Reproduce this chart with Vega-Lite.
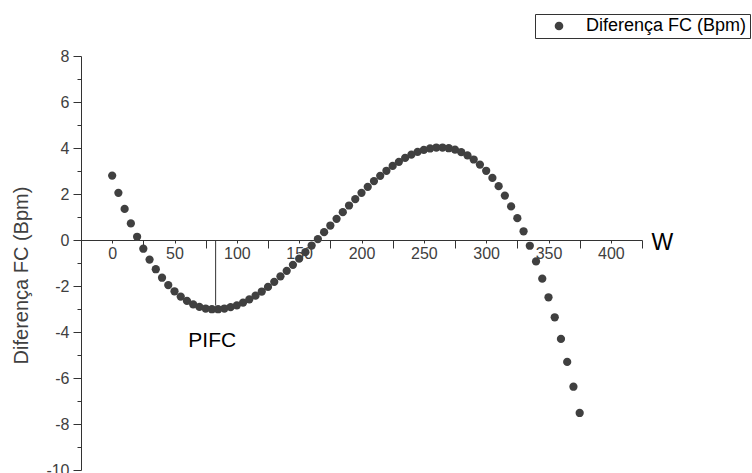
{
  "$schema": "https://vega.github.io/schema/vega-lite/v6.json",
  "width": 561,
  "height": 414,
  "autosize": {"type": "none"},
  "padding": {"left": 81, "top": 56, "right": 110, "bottom": 3},
  "background": "white",
  "config": {
    "view": {"stroke": null},
    "font": "Liberation Sans",
    "axis": {"grid": false, "domainColor": "#333333", "tickColor": "#333333", "labelColor": "#404040", "labelFont": "Liberation Sans", "titleFont": "Liberation Sans", "zindex": 0}
  },
  "layer": [
    {
      "data": {"values": [{"W": 83, "FC": 0, "FC2": -2.85}]},
      "mark": {"type": "rule", "color": "#333333", "strokeWidth": 1},
      "encoding": {
        "x": {"field": "W", "type": "quantitative", "scale": {"domain": [-25, 425], "nice": false, "zero": false},
          "axis": {"orient": "bottom", "offset": -230, "values": [0, 50, 100, 150, 200, 250, 300, 350, 400], "tickSize": 3, "labelFontSize": 16, "labelPadding": 2, "labelFlush": false, "labelOverlap": false,
            "title": "W", "titleX": 570, "titleY": 9, "titleAlign": "left", "titleBaseline": "alphabetic", "titleFontSize": 23, "titleFontWeight": "normal", "titleColor": "#000000", "titleAnchor": null}},
        "y": {"field": "FC", "type": "quantitative", "scale": {"domain": [-10, 8], "nice": false, "zero": false},
          "axis": {"orient": "left", "values": [-10, -8, -6, -4, -2, 0, 2, 4, 6, 8], "tickSize": 8, "labelFontSize": 16, "labelPadding": 4, "labelFlush": false, "labelOverlap": false,
            "labelExpr": "datum.value < 0 ? '-' + abs(datum.value) : '' + datum.value",
            "title": "Diferença FC (Bpm)", "titleX": -54, "titleY": 219, "titleAngle": 270, "titleAlign": "center", "titleBaseline": "alphabetic", "titleFontSize": 20, "titleFontWeight": "normal", "titleColor": "#404040"}},
        "y2": {"field": "FC2"}
      }
    },
    {
      "data": {"values": [{"W": 80.3, "FC": -4.66, "label": "PIFC"}]},
      "mark": {"type": "text", "font": "Liberation Sans", "fontSize": 21, "color": "#000000", "align": "center", "baseline": "alphabetic"},
      "encoding": {
        "x": {"field": "W", "type": "quantitative", "axis": null},
        "y": {"field": "FC", "type": "quantitative", "axis": null},
        "text": {"field": "label"}
      }
    },
    {
      "data": {"values": [
        {"W": 0, "FC": 2.80}, {"W": 5, "FC": 2.05}, {"W": 10, "FC": 1.35}, {"W": 15, "FC": 0.72}, {"W": 20, "FC": 0.14},
        {"W": 25, "FC": -0.38}, {"W": 30, "FC": -0.85}, {"W": 35, "FC": -1.27}, {"W": 40, "FC": -1.64}, {"W": 45, "FC": -1.96},
        {"W": 50, "FC": -2.23}, {"W": 55, "FC": -2.46}, {"W": 60, "FC": -2.65}, {"W": 65, "FC": -2.80}, {"W": 70, "FC": -2.91},
        {"W": 75, "FC": -2.98}, {"W": 80, "FC": -3.01}, {"W": 85, "FC": -3.01}, {"W": 90, "FC": -2.98}, {"W": 95, "FC": -2.92},
        {"W": 100, "FC": -2.84}, {"W": 105, "FC": -2.72}, {"W": 110, "FC": -2.58}, {"W": 115, "FC": -2.42}, {"W": 120, "FC": -2.24},
        {"W": 125, "FC": -2.04}, {"W": 130, "FC": -1.82}, {"W": 135, "FC": -1.58}, {"W": 140, "FC": -1.34}, {"W": 145, "FC": -1.08},
        {"W": 150, "FC": -0.81}, {"W": 155, "FC": -0.53}, {"W": 160, "FC": -0.24}, {"W": 165, "FC": 0.04}, {"W": 170, "FC": 0.34},
        {"W": 175, "FC": 0.63}, {"W": 180, "FC": 0.92}, {"W": 185, "FC": 1.21}, {"W": 190, "FC": 1.50}, {"W": 195, "FC": 1.78},
        {"W": 200, "FC": 2.05}, {"W": 205, "FC": 2.31}, {"W": 210, "FC": 2.56}, {"W": 215, "FC": 2.79}, {"W": 220, "FC": 3.01},
        {"W": 225, "FC": 3.22}, {"W": 230, "FC": 3.40}, {"W": 235, "FC": 3.57}, {"W": 240, "FC": 3.71}, {"W": 245, "FC": 3.83},
        {"W": 250, "FC": 3.92}, {"W": 255, "FC": 3.98}, {"W": 260, "FC": 4.02}, {"W": 265, "FC": 4.02}, {"W": 270, "FC": 3.99},
        {"W": 275, "FC": 3.93}, {"W": 280, "FC": 3.82}, {"W": 285, "FC": 3.68}, {"W": 290, "FC": 3.50}, {"W": 295, "FC": 3.28},
        {"W": 300, "FC": 3.01}, {"W": 305, "FC": 2.70}, {"W": 310, "FC": 2.34}, {"W": 315, "FC": 1.93}, {"W": 320, "FC": 1.46},
        {"W": 325, "FC": 0.95}, {"W": 330, "FC": 0.38}, {"W": 335, "FC": -0.25}, {"W": 340, "FC": -0.93}, {"W": 345, "FC": -1.68},
        {"W": 350, "FC": -2.49}, {"W": 355, "FC": -3.36}, {"W": 360, "FC": -4.30}, {"W": 365, "FC": -5.30}, {"W": 370, "FC": -6.38},
        {"W": 375, "FC": -7.52}
      ]},
      "mark": {"type": "point", "filled": true, "opacity": 1, "size": 68, "shape": "circle", "strokeWidth": 0},
      "encoding": {
        "x": {"field": "W", "type": "quantitative",
          "axis": {"orient": "bottom", "offset": -230, "values": [25, 75, 125, 175, 225, 275, 325, 375, 425], "tickSize": 8, "labels": false, "domain": false, "title": null}},
        "y": {"field": "FC", "type": "quantitative",
          "axis": {"orient": "left", "values": [-9, -7, -5, -3, -1, 1, 3, 5, 7], "tickSize": 4, "labels": false, "domain": false, "title": null}},
        "color": {"datum": "Diferença FC (Bpm)", "type": "nominal", "scale": {"range": ["#404040"]},
          "legend": {"orient": "none", "legendX": 454, "legendY": -42, "title": null, "strokeColor": "#333333", "fillColor": "white", "padding": 3,
            "labelFontSize": 18, "labelColor": "#000000", "labelFont": "Liberation Sans", "labelLimit": 400, "symbolSize": 75, "symbolType": "circle", "symbolOpacity": 1, "symbolStrokeWidth": 0, "symbolOffset": 12, "labelOffset": 18}}
      }
    }
  ],
  "resolve": {"axis": {"x": "independent", "y": "independent"}}
}
